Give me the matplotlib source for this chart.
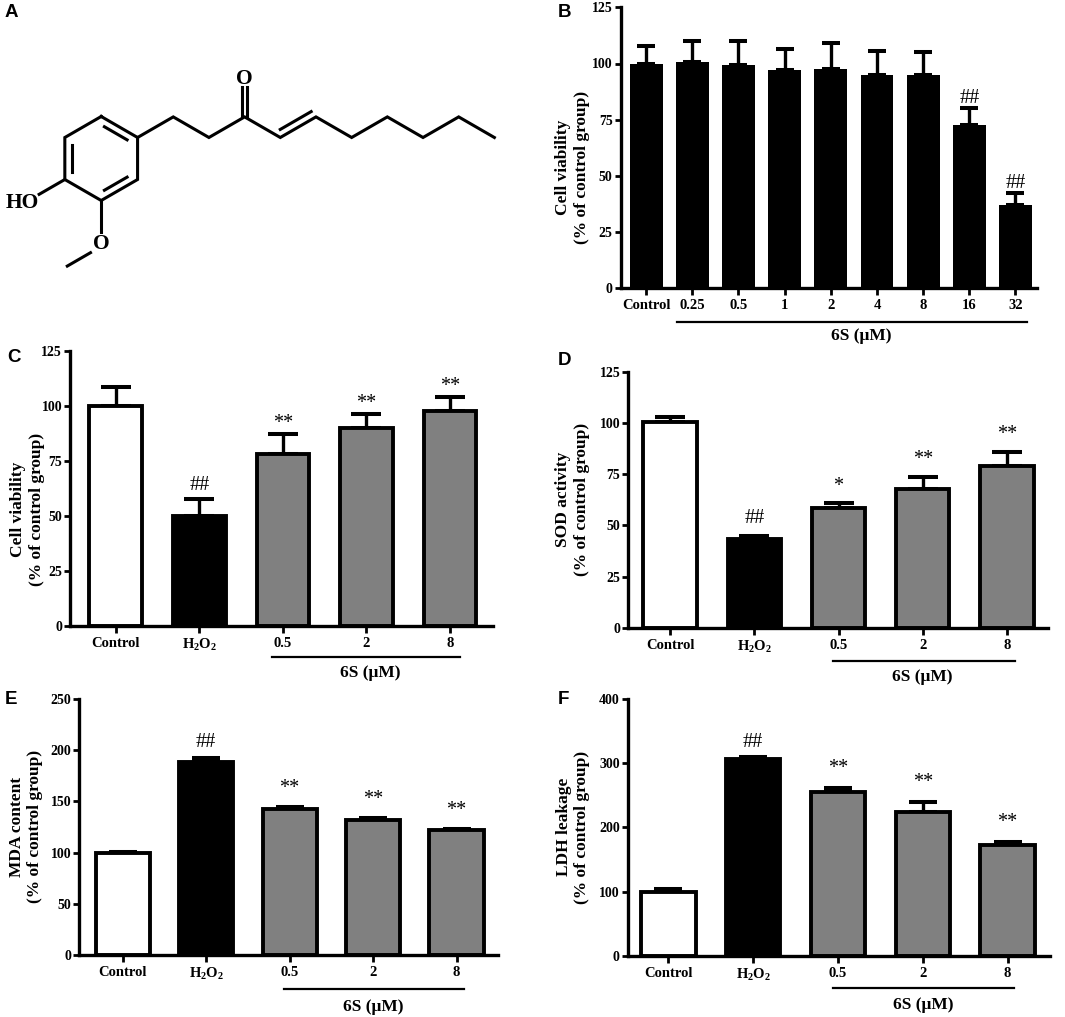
import numpy as np
import matplotlib.pyplot as plt
from matplotlib.transforms import offset_copy

W, H = 1065, 1017
SERIF = ['Liberation Serif', 'DejaVu Serif']
SANS = ['Liberation Sans', 'DejaVu Sans']

plt.rcParams['font.family'] = SERIF
plt.rcParams['font.weight'] = 'bold'
plt.rcParams['mathtext.default'] = 'regular'

# ---- data ----
b_labels = ['Control', '0.25', '0.5', '1', '2', '4', '8', '16', '32']
b_mean = [100, 100.5, 99.3, 97.1, 97.7, 94.9, 94.9, 72.7, 37.1]
b_sd = [7.8, 9.4, 10.6, 9.4, 11.4, 10.8, 10.4, 7.4, 5.2]
b_marks = ['', '', '', '', '', '', '', '##', '##']

group_labels = ['Control', r'H$_2$O$_2$', '0.5', '2', '8']

c_mean = [100, 50, 78.1, 90, 97.8]
c_sd = [8.7, 7.5, 9.1, 6.2, 6.3]
c_marks = ['', '##', '**', '**', '**']

d_mean = [100.5, 43.3, 58.6, 67.7, 78.9]
d_sd = [2.5, 1.6, 2.1, 6.0, 7.0]
d_marks = ['', '##', '*', '**', '**']

e_mean = [100, 188.8, 142.6, 131.8, 121.7]
e_sd = [1.0, 3.2, 2.3, 1.7, 1.3]
e_marks = ['', '##', '**', '**', '**']

f_mean = [100, 306, 255.6, 224.4, 172]
f_sd = [4.0, 3.0, 6.2, 15.6, 5.0]
f_marks = ['', '##', '**', '**', '**']

group_colors = ['white', 'black', '#808080', '#808080', '#808080']
dose_text = '6S (μM)'

fig = plt.figure(figsize=(W / 100, H / 100), dpi=100)


def px_rect(x0, y0, x1, y1):
    return [x0 / W, 1 - y1 / H, (x1 - x0) / W, (y1 - y0) / H]


def fig_text(x, y, s, **kw):
    return fig.text(x / W, 1 - y / H, s, **kw)


def draw_molecule(ax):
    lw = 2.2
    bond = 41.2
    dx, dy = bond * np.cos(np.pi / 6), bond * np.sin(np.pi / 6)
    cx, cy, r = 101.2, 158.5, 42.0
    ang = np.radians([90, 30, -30, -90, -150, 150])
    ring = np.c_[cx + r * np.cos(ang), cy - r * np.sin(ang)]
    closed = np.vstack([ring, ring[:1]])
    ax.plot(closed[:, 0], closed[:, 1], color='k', lw=lw, solid_joinstyle='miter')
    # inner lines of the aromatic ring
    for i, j in [(0, 1), (2, 3), (4, 5)]:
        p = np.array([cx, cy]) + (ring[i] - [cx, cy]) * 0.8
        q = np.array([cx, cy]) + (ring[j] - [cx, cy]) * 0.8
        m = (p + q) / 2
        p, q = m + (p - m) * 0.78, m + (q - m) * 0.78
        ax.plot([p[0], q[0]], [p[1], q[1]], color='k', lw=lw)
    # side chain
    pts = [ring[1]]
    for k in range(10):
        pts.append(pts[-1] + np.array([dx, -dy if k % 2 == 0 else dy]))
    pts = np.array(pts)
    ax.plot(pts[:, 0], pts[:, 1], color='k', lw=lw, solid_joinstyle='miter')
    # carbonyl
    c = pts[3]
    for off in (-2.8, 2.8):
        ax.plot([c[0] + off, c[0] + off], [c[1], c[1] - 29.5], color='k', lw=lw)
    ax.text(c[0], c[1] - 38, 'O', ha='center', va='center', fontsize=15.5)
    # trans double bond
    a, b = pts[4], pts[5]
    u = (b - a) / np.hypot(*(b - a))
    perp = np.array([-0.5, -0.866]) * 7
    p, q = a + perp + u * 4, b + perp - u * 1.5
    ax.plot([p[0], q[0]], [p[1], q[1]], color='k', lw=lw)
    # hydroxyl
    v = ring[4]
    e = v + np.array([-dx, dy]) * 0.72
    ax.plot([v[0], e[0]], [v[1], e[1]], color='k', lw=lw)
    ax.text(38.5, 203, 'HO', ha='right', va='center', fontsize=15.5)
    # methoxy
    v = ring[3]
    o = np.array([v[0], 244.5])
    ax.plot([v[0], v[0]], [v[1], 232], color='k', lw=lw)
    ax.text(o[0], o[1], 'O', ha='center', va='center', fontsize=15.5)
    s, t = o + np.array([-dx, dy]) * 0.3 + [0, 2], o + np.array([-dx, dy]) * 0.95 + [0, 2]
    ax.plot([s[0], t[0]], [s[1], t[1]], color='k', lw=lw)
    ax.set_xlim(0, 540)
    ax.set_ylim(300, 0)
    ax.axis('off')


def bar_panel(rect, labels, mean, sd, marks, colors, ymax, ystep, xlim,
              width, edge_lw, cap, mark_off):
    ax = fig.add_axes(px_rect(*rect))
    x = np.arange(len(mean))
    ax.bar(x, mean, width=width, color=colors, edgecolor='k', linewidth=edge_lw, zorder=2)
    ax.errorbar(x, mean, yerr=[np.zeros(len(mean)), sd], fmt='none', ecolor='k',
                elinewidth=2.4, capsize=cap, capthick=2.9, zorder=1)
    hash_off, star_off = mark_off
    for xi, m, s, mk in zip(x, mean, sd, marks):
        if not mk:
            continue
        # offsets are measured to the centre of the glyph ink
        dy = hash_off - 2 if mk.startswith('#') else star_off - 4.6
        ax.annotate(mk, (xi, m + s), xytext=(0, dy * 0.72), textcoords='offset points',
                    ha='center', va='center', fontsize=14.5, fontweight='normal')
    ax.set_xlim(*xlim)
    ax.set_ylim(0, ymax)
    ax.set_yticks(np.arange(0, ymax + 1, ystep))
    ax.set_xticks(x)
    ax.set_xticklabels(labels, fontsize=10.5)
    ax.tick_params(axis='y', labelsize=10, width=2, length=4.5, pad=1.2)
    ax.tick_params(axis='x', width=2, length=5, pad=3)
    for side in ('top', 'right'):
        ax.spines[side].set_visible(False)
    for side in ('left', 'bottom'):
        ax.spines[side].set_linewidth(2.4)
    return ax


def dose_bracket(ax, x0, x1, line_dy, text_x, text_dy):
    t = offset_copy(ax.get_xaxis_transform(), fig=fig, y=-line_dy * 0.72, units='points')
    ax.plot([x0, x1], [0, 0], transform=t, color='k', lw=1.6, clip_on=False)
    t2 = offset_copy(ax.get_xaxis_transform(), fig=fig, y=-text_dy * 0.72, units='points')
    ax.text(text_x, 0, dose_text, transform=t2, ha='center', va='center', fontsize=12.5)


def ylabel(x, y, s):
    fig_text(x, y, s, rotation=90, ha='center', va='center', multialignment='center',
             fontsize=12.5, linespacing=1.2)


# ---- A: structure ----
axA = fig.add_axes(px_rect(0, 0, 540, 300))
draw_molecule(axA)

# ---- B ----
axB = bar_panel((620.5, 7.3, 1036.7, 288.3), b_labels, b_mean, b_sd, b_marks, 'black',
                125, 25, (-0.556, 8.46), 0.71, 0, 6.6, (11.7, 11.7))
dose_bracket(axB, 0.67, 8.25, 33.4, 4.67, 47.7)
ylabel(572.4, 167.5, 'Cell viability\n(% of control group)')

# ---- C ----
axC = bar_panel((70, 350.7, 493.3, 626), group_labels, c_mean, c_sd, c_marks, group_colors,
                125, 25, (-0.547, 4.517), 0.63, 2.8, 11.0, (16, 15.3))
dose_bracket(axC, 1.87, 4.12, 31.3, 3.04, 47.3)
ylabel(27.5, 509, 'Cell viability\n(% of control group)')

# ---- D ----
axD = bar_panel((628.3, 371.7, 1048.3, 627.7), group_labels, d_mean, d_sd, d_marks, group_colors,
                125, 25, (-0.495, 4.49), 0.63, 2.8, 10.8, (19, 21.5))
dose_bracket(axD, 1.93, 4.09, 33.3, 2.99, 49.0)
ylabel(572.5, 499, 'SOD activity\n(% of control group)')

# ---- E ----
axE = bar_panel((79.3, 699, 498.3, 955), group_labels, e_mean, e_sd, e_marks, group_colors,
                250, 50, (-0.52, 4.50), 0.65, 2.8, 10.0, (18.3, 23))
dose_bracket(axE, 1.93, 4.09, 34.3, 3.0, 51.7)
ylabel(25.9, 826.7, 'MDA content\n(% of control group)')

# ---- F ----
axF = bar_panel((627.7, 699, 1050, 955.7), group_labels, f_mean, f_sd, f_marks, group_colors,
                400, 100, (-0.48, 4.50), 0.64, 2.8, 10.0, (17.3, 24))
dose_bracket(axF, 1.94, 4.08, 32.6, 3.0, 49.3)
ylabel(573.3, 827, 'LDH leakage\n(% of control group)')

# panel letters
for letter, (lx, ly) in zip('ABCDEF', [(5, 4), (558, 4), (7, 349), (558, 352), (5, 691), (558, 691)]):
    fig_text(lx, ly, letter, ha='left', va='top', fontsize=13.5, family=SANS, weight='bold')

fig.savefig('out.png', dpi=100)
